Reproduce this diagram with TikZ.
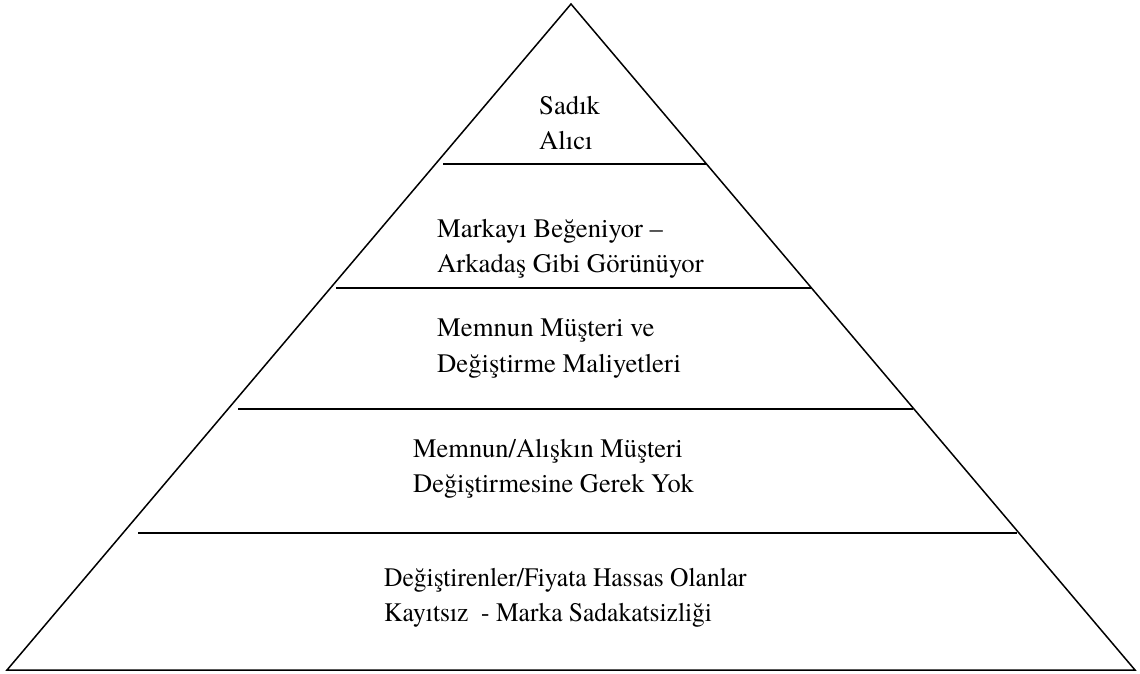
\documentclass[tikz,border=0pt]{standalone}
\usepackage{fontspec}
\usepackage{graphicx}
\setmainfont{texgyretermes}[Extension=.otf,UprightFont=*-regular]
\begin{document}
\begin{tikzpicture}[x=1pt,y=-1pt,
  edge/.style={line width=1.5pt,line join=miter},
  level/.style={line width=2pt},
  lbl/.style={anchor=base west,inner sep=0pt,font=\fontsize{26.7}{33}\selectfont}]
\useasboundingbox (0,0) rectangle (1140,673);
\coordinate (apex) at (571,4);
\coordinate (bl) at (7,670);
\coordinate (br) at (1135,670);
\draw[edge] (bl) -- (apex) -- (br) -- cycle;
\coordinate (l1a) at (443,164); \coordinate (l1b) at (707,164);
\coordinate (l2a) at (336,288); \coordinate (l2b) at (811,288);
\coordinate (l3a) at (238,409); \coordinate (l3b) at (913,409);
\coordinate (l4a) at (138,533); \coordinate (l4b) at (1017,533);
\draw[level] (l1a) -- (l1b);
\draw[level] (l2a) -- (l2b);
\draw[level] (l3a) -- (l3b);
\draw[level] (l4a) -- (l4b);
\node[lbl] (t1a) at (539,114) {Sadık};
\node[lbl] (t1b) at (539,149) {Alıcı};
\node[lbl] (t2a) at (437,237) {Markayı Beğeniyor –};
\node[lbl] (t2b) at (437,272) {Arkadaş Gibi Görünüyor};
\node[lbl] (t3a) at (437,336) {Memnun Müşteri ve};
\node[lbl] (t3b) at (437,372) {Değiştirme Maliyetleri};
\node[lbl] (t4a) at (413,457) {\scalebox{0.99}[1]{Memnun/Alışkın Müşteri}};
\node[lbl] (t4b) at (413,492) {\scalebox{0.99}[1]{Değiştirmesine Gerek Yok}};
\node[lbl] (t5a) at (384,586) {\scalebox{0.955}[1]{Değiştirenler/Fiyata Hassas Olanlar}};
\node[lbl] (t5b) at (384,621) {\scalebox{0.955}[1]{Kayıtsız\ \ - Marka Sadakatsizliği}};
\end{tikzpicture}
\end{document}
